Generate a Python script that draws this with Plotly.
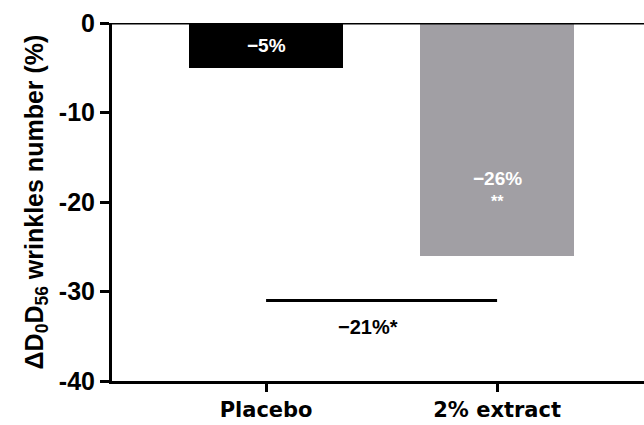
import plotly.graph_objects as go

# Change in wrinkle count between day 0 and day 56
groups = ["Placebo", "2% extract"]
changes = [-5, -26]
bar_colors = ["#000000", "#a19fa4"]
bar_labels = ["−5%", "−26%"]
bar_stars = ["", "**"]

# Between-group comparison bracket
bracket_y = -31
diff_label = "−21%*"

y_ticks = [0, -10, -20, -30, -40]

fig = go.Figure()

fig.add_trace(go.Bar(
    x=groups, y=changes,
    marker=dict(color=bar_colors, line=dict(width=0)),
    width=0.67,
    showlegend=False,
    hoverinfo="skip",
))

# bracket line between the two groups
fig.add_trace(go.Scatter(
    x=groups, y=[bracket_y, bracket_y],
    mode="lines",
    line=dict(color="black", width=3),
    showlegend=False,
    hoverinfo="skip",
))

label_font = dict(family="Liberation Sans, Arial", size=19, color="white")
for g, v, lab, star in zip(groups, changes, bar_labels, bar_stars):
    if star:
        fig.add_annotation(x=g, y=v * 0.67, text="<b>%s</b>" % lab,
                           showarrow=False, font=label_font)
        fig.add_annotation(x=g, y=v * 0.765, text="<b>%s</b>" % star,
                           showarrow=False, font=dict(label_font, size=16))
    else:
        fig.add_annotation(x=g, y=v / 2, text="<b>%s</b>" % lab,
                           showarrow=False, font=label_font)

fig.add_annotation(x=0.44, y=bracket_y - 3, text="<b>%s</b>" % diff_label,
                   showarrow=False,
                   font=dict(family="Liberation Sans, Arial", size=20, color="black"))

# zero baseline across the top of the plot
fig.add_shape(type="line", xref="paper", yref="y", x0=0, x1=1, y0=0, y1=0,
              line=dict(color="black", width=3))

fig.update_layout(
    width=644, height=425,
    margin=dict(l=112, r=0, t=23, b=44),
    paper_bgcolor="white", plot_bgcolor="white",
    bargap=0,
    xaxis=dict(
        type="category",
        range=[-0.667, 1.636],
        showline=True, linecolor="black", linewidth=3,
        ticks="outside", ticklen=8, tickwidth=3, tickcolor="black",
        tickfont=dict(family="DejaVu Sans", size=21, color="black"),
        tickvals=groups,
        ticktext=["<b>%s</b>" % g for g in groups],
        showgrid=False, zeroline=False,
    ),
    yaxis=dict(
        range=[-40, 0],
        tickvals=y_ticks,
        ticktext=["<b>%d</b>" % t for t in y_ticks],
        showline=True, linecolor="black", linewidth=3,
        ticks="outside", ticklen=9, tickwidth=3, tickcolor="black",
        tickfont=dict(family="Liberation Sans, Arial", size=25, color="black"),
        showgrid=False, zeroline=False,
        title=dict(
            text="<b>ΔD<sub>0</sub>D<sub>56</sub> wrinkles number (%)</b>",
            font=dict(family="Liberation Sans, Arial", size=25, color="black"),
            standoff=9,
        ),
    ),
)

fig.write_html("out.html")
